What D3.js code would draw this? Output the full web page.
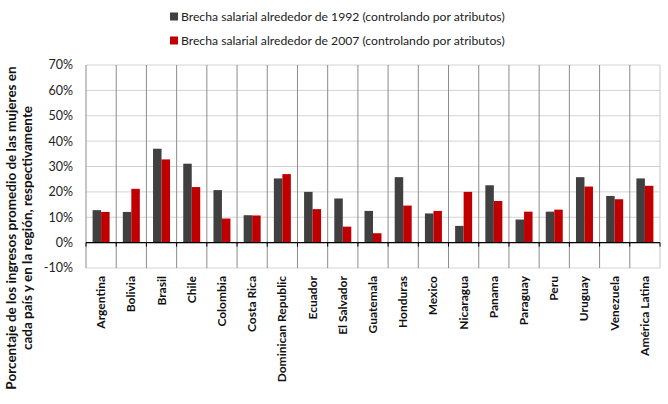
<!DOCTYPE html>
<html>
<head>
<meta charset="utf-8">
<script src="https://cdn.jsdelivr.net/npm/d3@7"></script>
<style>
  body { margin: 0; background: #fff; }
  svg { display: block; font-family: Lato, "Open Sans", sans-serif; }
</style>
</head>
<body>
<svg id="chart" width="668" height="404"></svg>
<script>
const countries = [
  "Argentina", "Bolivia", "Brasil", "Chile", "Colombia", "Costa Rica",
  "Dominican Republic", "Ecuador", "El Salvador", "Guatemala", "Honduras",
  "Mexico", "Nicaragua", "Panama", "Paraguay", "Peru", "Uruguay",
  "Venezuela", "América Latina",
];
const gap1992 = [12.8, 12.1, 37.0, 31.1, 20.7, 10.8, 25.3, 20.0, 17.4, 12.5, 25.8, 11.5, 6.6, 22.6, 9.1, 12.2, 25.8, 18.4, 25.3];
const gap2007 = [12.1, 21.2, 32.8, 21.9, 9.5, 10.7, 27.0, 13.2, 6.3, 3.7, 14.6, 12.5, 20.0, 16.4, 12.2, 13.0, 22.1, 17.1, 22.4];
const seriesNames = [
  "Brecha salarial alrededor de 1992 (controlando por atributos)",
  "Brecha salarial alrededor de 2007 (controlando por atributos)",
];
const seriesColors = ["#404040", "#c00000"];
const yTicks = [-10, 0, 10, 20, 30, 40, 50, 60, 70];

const svg = d3.select("#chart");
const plotLeft = 86, plotRight = 660, plotTop = 65, plotBottom = 268;

const x = d3.scaleBand().domain(countries).range([plotLeft, plotRight]);
const xInner = d3.scaleBand().domain([0, 1]).range([0, 17]);
const y = d3.scaleLinear().domain([-10, 70]).range([plotBottom, plotTop]);

// horizontal gridlines
svg.append("g")
  .selectAll("line")
  .data(yTicks)
  .join("line")
  .attr("x1", plotLeft).attr("x2", plotRight)
  .attr("y1", (d) => y(d)).attr("y2", (d) => y(d))
  .attr("stroke", "#d4d4d4")
  .attr("stroke-width", 1);

// vertical gridlines at category boundaries
const bounds = countries.map((c) => x(c)).concat([plotRight]);
svg.append("g")
  .selectAll("line")
  .data(bounds)
  .join("line")
  .attr("x1", (d) => d).attr("x2", (d) => d)
  .attr("y1", plotTop).attr("y2", plotBottom)
  .attr("stroke", (d, i) => (i === bounds.length - 1 ? "#c8c8c8" : "#8c8c8c"))
  .attr("stroke-width", 1);

// bars
const rows = countries.map((c, i) => ({ c, vals: [gap1992[i], gap2007[i]] }));
const barOffset = (x.bandwidth() - 17) / 2;
svg.append("g")
  .selectAll("g")
  .data(rows)
  .join("g")
  .attr("transform", (d) => `translate(${x(d.c) + barOffset},0)`)
  .selectAll("rect")
  .data((d) => d.vals)
  .join("rect")
  .attr("x", (d, i) => xInner(i))
  .attr("width", xInner.bandwidth())
  .attr("y", (d) => y(Math.max(0, d)))
  .attr("height", (d) => Math.abs(y(d) - y(0)))
  .attr("fill", (d, i) => seriesColors[i]);

// zero axis with ticks
svg.append("line")
  .attr("x1", plotLeft).attr("x2", plotRight)
  .attr("y1", y(0)).attr("y2", y(0))
  .attr("stroke", "#000").attr("stroke-width", 1.2);
svg.append("g")
  .selectAll("line")
  .data(bounds)
  .join("line")
  .attr("x1", (d) => d).attr("x2", (d) => d)
  .attr("y1", y(0)).attr("y2", y(0) + 4)
  .attr("stroke", "#000");

// y tick labels
svg.append("g")
  .selectAll("text")
  .data(yTicks)
  .join("text")
  .attr("x", 73)
  .attr("y", (d) => y(d))
  .attr("dy", "0.35em")
  .attr("text-anchor", "end")
  .attr("font-size", 12.5)
  .attr("fill", "#222")
  .text((d) => `${d}%`);

// x labels
svg.append("g")
  .selectAll("text")
  .data(countries)
  .join("text")
  .attr("transform", (d) => `translate(${x(d) + x.bandwidth() / 2 + 4},276) rotate(-90)`)
  .attr("text-anchor", "end")
  .attr("font-size", 12)
  .attr("font-weight", "bold")
  .attr("fill", "#111")
  .text((d) => d);

// y title
const yTitle = svg.append("text")
  .attr("transform", "translate(16,228) rotate(-90)")
  .attr("text-anchor", "middle")
  .attr("font-size", 13.5)
  .attr("font-weight", "bold")
  .attr("fill", "#111");
yTitle.append("tspan").attr("x", 0).attr("y", 0)
  .text("Porcentaje de los ingresos promedio de las mujeres en");
yTitle.append("tspan").attr("x", 0).attr("y", 16)
  .text("cada país y en la región, respectivamente");

// legend
const legend = svg.append("g")
  .selectAll("g")
  .data(seriesNames)
  .join("g")
  .attr("transform", (d, i) => `translate(170,${17 + i * 24})`);
legend.append("rect")
  .attr("x", 0).attr("y", -4.5)
  .attr("width", 8).attr("height", 8)
  .attr("fill", (d, i) => seriesColors[i]);
legend.append("text")
  .attr("x", 11)
  .attr("y", 0)
  .attr("dy", "0.35em")
  .attr("font-size", 12.2)
  .attr("fill", "#222")
  .text((d) => d);
</script>
</body>
</html>
